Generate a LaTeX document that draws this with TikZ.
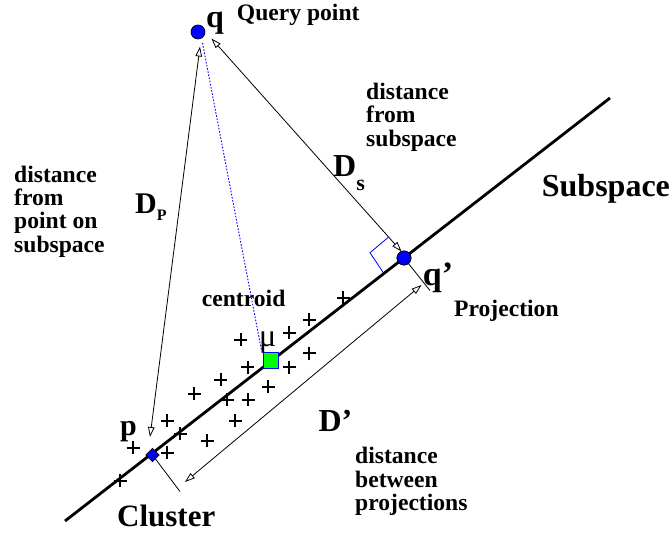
\documentclass[tikz,border=0pt]{standalone}
\usepackage{fontspec}
\setmainfont{Liberation Serif}
\usetikzlibrary{arrows.meta,shapes.geometric}
\definecolor{ptblue}{RGB}{0,0,255}
\definecolor{ptgreen}{RGB}{0,255,0}
\begin{document}
\begin{tikzpicture}[x=1pt,y=-1pt,
  small/.style={font=\fontsize{23.6}{23.4}\selectfont\bfseries,inner sep=0pt,align=left},
  big/.style={font=\fontsize{32}{32}\selectfont\bfseries,inner sep=0pt,anchor=base west},
  dimline/.style={line width=0.8pt,{Triangle[open,length=10pt,width=6.5pt]}-{Triangle[open,length=10pt,width=6.5pt]}},
  thinline/.style={line width=0.8pt},
  subline/.style={line width=2.8pt},
  plusmark/.style={line width=2.3pt},
  dot/.style={circle,fill=ptblue,draw=black,line width=0.7pt,minimum size=14pt,inner sep=0pt}
]
\useasboundingbox (0,0) rectangle (670,534);

% subspace line
\coordinate (s1) at (65,521);
\coordinate (s2) at (610,98);
\draw[subline] (s1) -- (s2);

% points
\node[dot] (q) at (198,32) {};
\node[dot] (qp) at (404,258) {};
\node[diamond,fill=ptblue,draw=black,line width=0.7pt,minimum size=13.5pt,inner sep=0pt] (p) at (152.5,455) {};
\node[rectangle,fill=ptgreen,draw=ptblue,line width=0.8pt,minimum width=15pt,minimum height=16.5pt,inner sep=0pt] (mu) at (270.5,360.5) {};

% connector end points
\coordinate (dsTop) at (211.5,38.5);
\coordinate (dsBot) at (401.5,251.5);
\coordinate (dpTop) at (200,46.5);
\coordinate (dpBot) at (150,437);
\coordinate (dBot) at (185,482);
\coordinate (dTop) at (421.5,285);
\coordinate (eq) at (430,290.5);
\coordinate (ep) at (180,491.5);
\coordinate (dotA) at (202.5,43);
\coordinate (dotB) at (261.5,350.5);
\coordinate (r1) at (388.3,237.3);
\coordinate (r2) at (370,252.7);
\coordinate (r3) at (383.3,272.7);

% connectors
\draw[dimline] (dsTop) -- (dsBot);
\draw[dimline] (dpTop) -- (dpBot);
\draw[dimline] (dBot) -- (dTop);
\draw[thinline] (qp.center) -- (eq);
\draw[thinline] (p.center) -- (ep);
\draw[ptblue,line width=0.9pt,dash pattern=on 1.6pt off 1.6pt] (dotA) -- (dotB);
\draw[ptblue,line width=0.8pt] (r1) -- (r2) -- (r3);

% redraw markers on top
\node[dot] at (qp) {};

% plus signs
\foreach \px/\py in {343.3/298,309/320,289.3/333,240.7/340,309.3/353.3,247.7/367.3,289.3/367.3,220.7/380,268.3/387,194/394,227/400,248/400,235/421,167/421,180/434,207/441,133/448,167/453,120/481}
  \draw[plusmark] ({\px-6.5},\py) -- ({\px+6.5},\py) (\px,{\py-6.5}) -- (\px,{\py+6.5});

% labels
\node[big] (ql) at (206,28) {q};
\node[small,anchor=base west] (qpoint) at (236.7,20.5) {Query point};
\node[small,anchor=north west] (dfs) at (366,83) {distance\\from\\subspace};
\node[big] (dsl) at (333,176.7) {D\raisebox{-14pt}{\fontsize{22}{22}\selectfont s}};
\node[big] (subsp) at (541.7,196.7) {Subspace};
\node[small,anchor=north west] (dfp) at (14,165.5) {distance\\from\\point on\\subspace};
\node[big,font=\fontsize{30}{30}\selectfont\bfseries] (dpl) at (135,213.3) {D\raisebox{-7pt}{\fontsize{16}{16}\selectfont P}};
\node[big,font=\fontsize{34}{34}\selectfont\bfseries] (qpl) at (422.7,286) {q’};
\node[small,anchor=base west] (proj) at (454,316.7) {Projection};
\node[small,anchor=base west] (cent) at (201.7,306.7) {centroid};
\node[anchor=base west,inner sep=0pt,font=\fontsize{32}{32}\selectfont] (mul) at (259,347) {μ};
\node[big] (dpr) at (318.3,431.7) {D’};
\node[small,anchor=north west] (dbp) at (355,447.3) {distance\\between\\projections};
\node[big,font=\fontsize{30}{30}\selectfont\bfseries] (pl) at (120,436) {p};
\node[big,font=\fontsize{31}{31}\selectfont\bfseries] (clus) at (117,526.7) {Cluster};
\end{tikzpicture}
\end{document}
